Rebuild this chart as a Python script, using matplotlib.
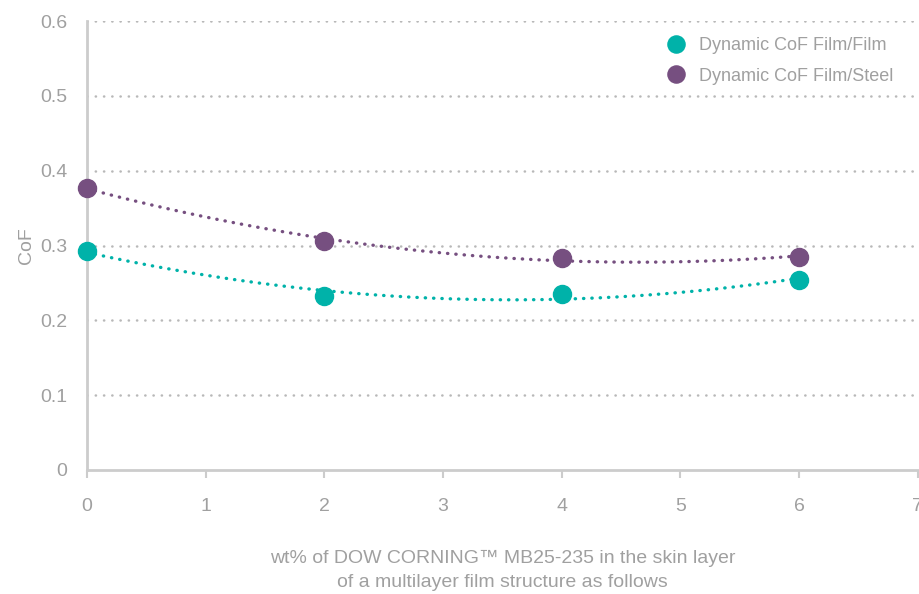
import numpy as np
import matplotlib.pyplot as plt

plt.rcParams['font.family'] = ['Liberation Sans', 'DejaVu Sans']

# wt% of MB25-235 in skin layer
wt_pct = [0, 2, 4, 6]
cof_film_film = [0.293, 0.233, 0.235, 0.254]
cof_film_steel = [0.377, 0.306, 0.283, 0.285]
labels = ['Dynamic CoF Film/Film', 'Dynamic CoF Film/Steel']
colors = ['#00b2a9', '#764f80']

grey = '#a0a0a0'
fig = plt.figure(figsize=(9.19, 5.94), dpi=100)
ax = fig.add_axes([0.0947, 0.2088, 0.904, 0.7558])

xs = np.linspace(0, 6, 200)
handles = []
for y, c, lab in zip([cof_film_film, cof_film_steel], colors, labels):
    # 2nd order polynomial trendline
    p = np.polyfit(wt_pct, y, 2)
    ax.plot(xs, np.polyval(p, xs), color=c, lw=2.4, ls=(0, (0.1, 2.4)),
            dash_capstyle='round', zorder=2)
    h, = ax.plot(wt_pct, y, 'o', ms=13, color=c, label=lab, zorder=3,
                 clip_on=False)
    handles.append(h)

ax.set_xlim(0, 7)
ax.set_ylim(0, 0.6)
ax.set_xticks(range(8))
ax.set_yticks([0, 0.1, 0.2, 0.3, 0.4, 0.5, 0.6])
ax.set_yticklabels(['0', '0.1', '0.2', '0.3', '0.4', '0.5', '0.6'])
for gy in [0.1, 0.2, 0.3, 0.4, 0.5, 0.6]:
    ax.axhline(gy, color='#b8b8b8', lw=1.8, ls=(0, (0.1, 3.2)),
               dash_capstyle='round', zorder=1)

for s in ['top', 'right']:
    ax.spines[s].set_visible(False)
for s in ['left', 'bottom']:
    ax.spines[s].set_color('#cccccc')
    ax.spines[s].set_linewidth(2)

ax.tick_params(axis='x', colors='#cccccc', labelcolor=grey, labelsize=14,
               length=6, width=1.5, pad=14)
ax.tick_params(axis='y', colors='#cccccc', labelcolor=grey, labelsize=14,
               length=0, pad=14)

ax.set_ylabel('CoF', color=grey, fontsize=14, labelpad=4)
ax.set_xlabel('wt% of DOW CORNING\u2122 MB25-235 in the skin layer\nof a multilayer film structure as follows',
              color=grey, fontsize=14, labelpad=25, linespacing=1.55)

leg = ax.legend(handles=handles, loc='upper right', frameon=False,
                fontsize=13, labelcolor=grey, markerscale=0.95,
                handletextpad=0.45, labelspacing=0.75, handlelength=1.6,
                bbox_to_anchor=(0.99, 1.0))

fig.savefig('out.png', dpi=100)
